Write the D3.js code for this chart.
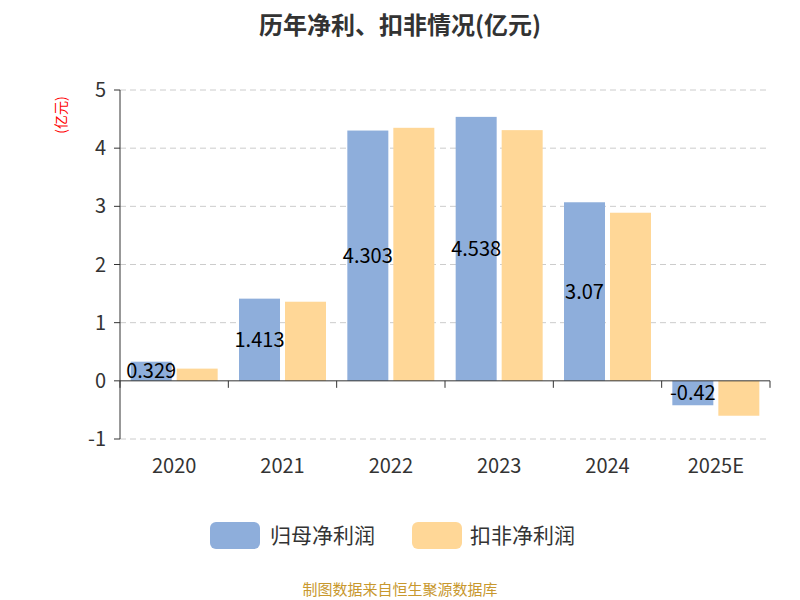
<!DOCTYPE html>
<html><head><meta charset="utf-8">
<script src="https://cdn.jsdelivr.net/npm/d3@7"></script>
<style>body{margin:0;background:#fff}</style></head>
<body><svg id="c" width="800" height="600"></svg>
<script>
const categories=["2020","2021","2022","2023","2024","2025E"];
const netProfit=[0.329,1.413,4.303,4.538,3.07,-0.42];
const deductedProfit=[0.21,1.36,4.35,4.31,2.89,-0.60];
const yTicks=[-1,0,1,2,3,4,5];
const seriesNames=["归母净利润","扣非净利润"];
const colors=["#8eaedb","#ffd797"];
const font="'Noto Sans CJK SC','Noto Sans',sans-serif";
const svg=d3.select("#c");
const x=d3.scaleBand().domain(categories).range([120,770]);
const y=d3.scaleLinear().domain([-1,5]).range([439,90]);
svg.append("text").attr("x",400).attr("y",34).attr("text-anchor","middle").attr("font-family",font).attr("font-size",24).attr("font-weight","bold").attr("fill","#333").text("历年净利、扣非情况(亿元)");
svg.append("text").attr("transform","translate(66,115) rotate(-90)").attr("text-anchor","middle").attr("font-family",font).attr("font-size",14).attr("fill","red").text("(亿元)");
yTicks.forEach(t=>{
 if(t!==0) svg.append("line").attr("x1",120).attr("x2",770).attr("y1",y(t)).attr("y2",y(t)).attr("stroke","#ccc").attr("stroke-dasharray","6,4");
 svg.append("line").attr("x1",114).attr("x2",120).attr("y1",y(t)).attr("y2",y(t)).attr("stroke","#333");
 svg.append("text").attr("x",106).attr("y",y(t)+7).attr("text-anchor","end").attr("font-family",font).attr("font-size",20).attr("fill","#333").text(t);
});
svg.append("line").attr("x1",120).attr("x2",120).attr("y1",y(5)).attr("y2",y(-1)).attr("stroke","#333");
const bw=41;
categories.forEach((c,i)=>{
 const cx=x(c)+x.bandwidth()/2;
 const v=netProfit[i];
 svg.append("rect").attr("x",cx-bw-2.5).attr("width",bw).attr("y",y(Math.max(0,v))).attr("height",Math.abs(y(v)-y(0))).attr("fill",colors[0]);
 svg.append("text").attr("x",cx-bw/2-2.5).attr("y",(y(v)+y(0))/2+7).attr("text-anchor","middle").attr("font-family",font).attr("font-size",20).attr("fill","#000").text(v);
 const w=deductedProfit[i];
 svg.append("rect").attr("x",cx+2.5).attr("width",bw).attr("y",y(Math.max(0,w))).attr("height",Math.abs(y(w)-y(0))).attr("fill",colors[1]);
 svg.append("text").attr("x",cx).attr("y",473).attr("text-anchor","middle").attr("font-family",font).attr("font-size",20).attr("fill","#333").text(c);
});
svg.append("line").attr("x1",120).attr("x2",770).attr("y1",y(0)).attr("y2",y(0)).attr("stroke","#333");
d3.range(categories.length+1).forEach(i=>{const px=120+i*x.bandwidth();
 svg.append("line").attr("x1",px).attr("x2",px).attr("y1",y(0)).attr("y2",y(0)+7).attr("stroke","#333");});
[[210,270],[412,470]].forEach((p,i)=>{
 svg.append("rect").attr("x",p[0]).attr("y",522).attr("width",50).attr("height",27).attr("rx",6).attr("fill",colors[i]);
 svg.append("text").attr("x",p[1]).attr("y",543).attr("font-family",font).attr("font-size",21).attr("fill","#333").text(seriesNames[i]);
});
svg.append("text").attr("x",400).attr("y",595).attr("text-anchor","middle").attr("font-family",font).attr("font-size",15).attr("fill","#c8982e").text("制图数据来自恒生聚源数据库");
</script></body></html>
